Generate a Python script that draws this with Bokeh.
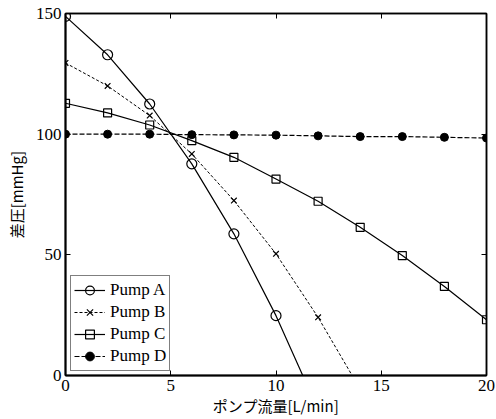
from bokeh.plotting import figure
from bokeh.models import Range1d, LinearAxis, FixedTicker, Legend
from bokeh.embed import file_html
from bokeh.resources import INLINE

# Data
x_a = [0, 2, 4, 6, 8, 10, 12]
y_a = [148.8, 132.9, 112.5, 87.7, 58.7, 24.8, -14.2]
x_b = [0, 2, 4, 6, 8, 10, 12, 14]
y_b = [129.5, 120.0, 107.7, 91.8, 72.5, 50.4, 24.1, -5.7]
x_c = [0, 2, 4, 6, 8, 10, 12, 14, 16, 18, 20]
y_c = [112.8, 108.8, 103.8, 97.3, 90.4, 81.4, 72.2, 61.4, 49.7, 36.9, 23.1]
x_d = [0, 2, 4, 6, 8, 10, 12, 14, 16, 18, 20]
y_d = [100.0, 100.0, 100.0, 99.8, 99.7, 99.6, 99.3, 99.0, 99.0, 98.7, 98.4]
x_ticks = [0, 5, 10, 15, 20]
y_ticks = [0, 50, 100, 150]
names = ["Pump A", "Pump B", "Pump C", "Pump D"]

SERIF = "'Liberation Serif', serif"
CJK = "'Noto Sans CJK JP', sans-serif"

p = figure(width=496, height=419, output_backend="svg", toolbar_location=None,
           x_range=Range1d(0, 20), y_range=Range1d(0, 150),
           min_border_left=65, min_border_right=10, min_border_top=13, min_border_bottom=44)
p.background_fill_color = "white"
p.border_fill_color = "white"
p.grid.visible = False
p.outline_line_color = "black"
p.outline_line_width = 1.5

for ax in (p.xaxis[0], p.yaxis[0]):
    ax.major_tick_in = 5
    ax.major_tick_out = 0
    ax.minor_tick_in = 0
    ax.minor_tick_out = 0
    ax.axis_line_width = 2
    ax.major_tick_line_width = 1
    ax.major_label_text_font = SERIF
    ax.major_label_text_font_size = "17px"
    ax.major_label_text_color = "black"
    ax.axis_label_text_font = CJK
    ax.axis_label_text_font_size = "15px"
    ax.axis_label_text_font_style = "normal"
    ax.axis_label_text_color = "black"

p.xaxis[0].ticker = FixedTicker(ticks=x_ticks)
p.yaxis[0].ticker = FixedTicker(ticks=y_ticks)
p.xaxis[0].axis_label = "ポンプ流量[L/min]"
p.yaxis[0].axis_label = "差圧[mmHg]"
p.xaxis[0].major_label_standoff = 4
p.yaxis[0].major_label_standoff = 4
p.xaxis[0].axis_label_standoff = 1
p.yaxis[0].axis_label_standoff = 6

# mirrored ticks on top and right (no labels)
top = LinearAxis(ticker=FixedTicker(ticks=x_ticks), major_tick_in=5, major_tick_out=0,
                 minor_tick_in=0, minor_tick_out=0,
                 major_label_overrides={t: "" for t in x_ticks},
                 major_label_text_font_size="1px",
                 major_label_standoff=0, axis_line_width=1.5)
right = LinearAxis(ticker=FixedTicker(ticks=y_ticks), major_tick_in=5, major_tick_out=0,
                   minor_tick_in=0, minor_tick_out=0,
                   major_label_overrides={t: "" for t in y_ticks},
                   major_label_text_font_size="1px",
                   major_label_standoff=0, axis_line_width=1.5)
p.add_layout(top, "above")
p.add_layout(right, "right")

la = p.line(x_a, y_a, line_color="black", line_width=1.2)
sa = p.scatter(x_a, y_a, marker="circle", size=10, fill_color=None, line_color="black", line_width=1.2)
lb = p.line(x_b, y_b, line_color="black", line_width=1.0, line_dash="3 2")
sb = p.scatter(x_b, y_b, marker="x", size=8, line_color="black", line_width=1.2)
lc = p.line(x_c, y_c, line_color="black", line_width=1.2)
sc = p.scatter(x_c, y_c, marker="square", size=8, fill_color=None, line_color="black", line_width=1.2)
ld = p.line(x_d, y_d, line_color="black", line_width=1.2, line_dash="5 2")
sd = p.scatter(x_d, y_d, marker="circle", size=8, fill_color="black", line_color="black")

legend = Legend(items=[(names[0], [la, sa]), (names[1], [lb, sb]),
                       (names[2], [lc, sc]), (names[3], [ld, sd])],
                location=(5, 4), margin=0, padding=3, spacing=0,
                glyph_width=31, glyph_height=22, label_height=22, label_standoff=5,
                label_text_font=SERIF, label_text_font_size="17px", label_text_color="black",
                border_line_color="black", border_line_width=1.5,
                background_fill_color="white", background_fill_alpha=1.0)
p.add_layout(legend, "center")

open("out.html", "w").write(file_html(p, INLINE))
